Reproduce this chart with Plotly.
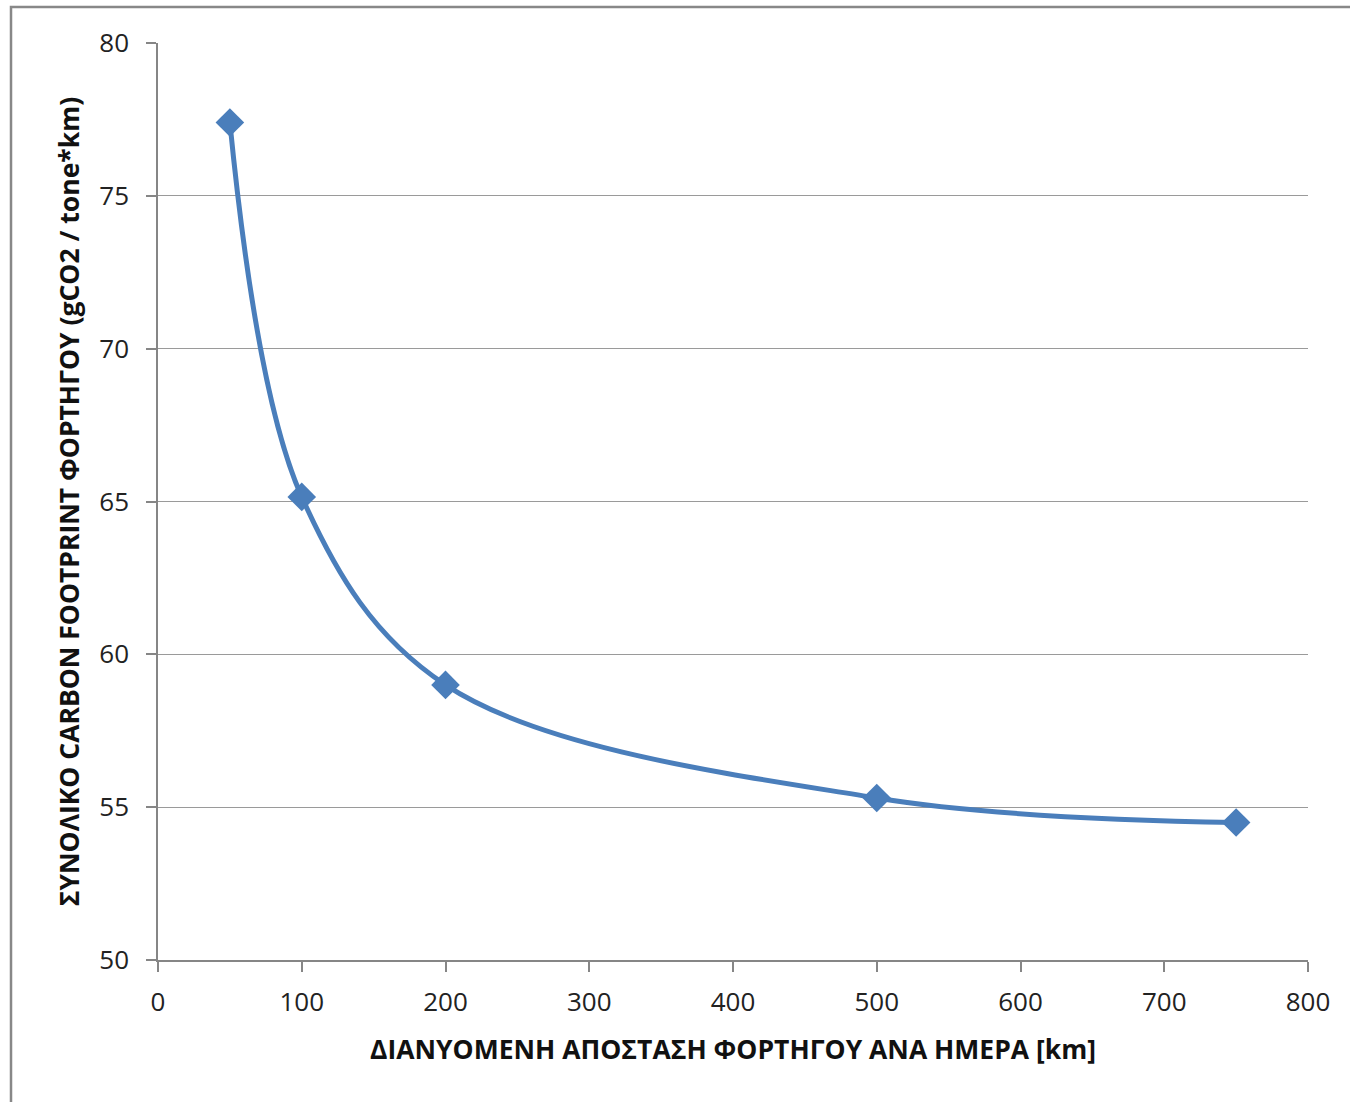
import plotly.graph_objects as go

distance_km = [50, 100, 200, 500, 750]
carbon_footprint = [77.4, 65.15, 59.0, 55.3, 54.5]

x_title = "ΔΙΑΝΥΟΜΕΝΗ ΑΠΟΣΤΑΣΗ ΦΟΡΤΗΓΟΥ ΑΝΑ ΗΜΕΡΑ [km]"
y_title = "ΣΥΝΟΛΙΚΟ CARBON FOOTPRINT ΦΟΡΤΗΓΟΥ (gCO2 / tone*km)"

fig = go.Figure()
fig.add_trace(go.Scatter(
    x=distance_km, y=carbon_footprint,
    mode="lines+markers",
    line=dict(color="#4A7EBB", width=5, shape="spline", smoothing=1.0),
    marker=dict(symbol="diamond", size=22, color="#4A7EBB"),
    showlegend=False,
))

font_family = "Open Sans, Liberation Sans, sans-serif"
fig.update_layout(
    width=1350, height=1102,
    margin=dict(l=158, r=42, t=43, b=142),
    paper_bgcolor="white", plot_bgcolor="white",
    font=dict(family=font_family, size=26, color="#222222"),
    xaxis=dict(
        range=[0, 800], dtick=100, tick0=0,
        showgrid=False, zeroline=False,
        showline=True, linecolor="#868686", linewidth=1.5,
        ticks="outside", ticklen=10, tickcolor="#868686", tickwidth=1.5,
        ticklabelstandoff=8,
        tickfont=dict(size=26, color="#222222"),
        title=dict(text="<b>" + x_title + "</b>", font=dict(size=26.5, color="#111111"), standoff=22),
    ),
    yaxis=dict(
        range=[50, 80], dtick=5, tick0=50,
        showgrid=True, gridcolor="#9a9a9a", gridwidth=1.2,
        zeroline=False,
        showline=True, linecolor="#868686", linewidth=1.5,
        ticks="outside", ticklen=10, tickcolor="#868686", tickwidth=1.5,
        ticklabelstandoff=12,
        tickfont=dict(size=26, color="#222222"),
        title=dict(text="<b>" + y_title + "</b>", font=dict(size=26.5, color="#111111"), standoff=12),
    ),
    shapes=[dict(
        type="rect", xref="paper", yref="paper",
        x0=(11 - 158) / 1150, x1=(1400 - 158) / 1150,
        y0=-(1150 - 960) / 917, y1=1 + (43 - 7) / 917,
        line=dict(color="#888888", width=2.5), fillcolor="rgba(0,0,0,0)", layer="below",
    )],
)

fig.write_html("out.html")
